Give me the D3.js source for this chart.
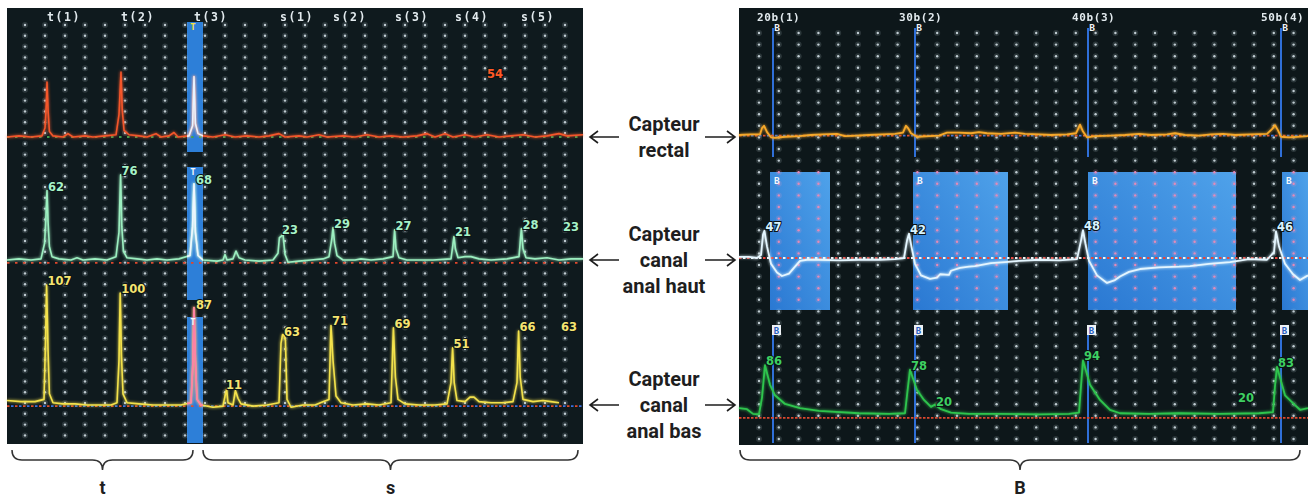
<!DOCTYPE html>
<html>
<head>
<meta charset="utf-8">
<script src="https://cdn.jsdelivr.net/npm/d3@7"></script>
<style>
  body { margin: 0; background: #fff; }
  svg { display: block; }
</style>
</head>
<body>
<svg id="chart" width="1308" height="502"></svg>
<script>
// ---- data (time in s, pressure in mmHg-ish) ----
const leftEventLabels = ["t(1)", "t(2)", "t(3)", "s(1)", "s(2)", "s(3)", "s(4)", "s(5)"];
const leftEventTimes = [2.0, 5.7, 9.35, 13.65, 16.3, 19.4, 22.4, 25.7];
const rightEventLabels = ["20b(1)", "30b(2)", "40b(3)", "50b(4)"];
const rightEventTimes = [1.7, 8.8, 17.45, 27.1];

const rectalLeft = [[0,0],[0.6,1],[1.2,0],[1.75,1],[1.9,8],[1.97,30],[2.0,49],[2.05,25],[2.12,5],[2.3,1],[2.8,0],[3.05,3],[3.3,0],[3.9,1],[4.3,0],[4.9,1],[5.45,2],[5.6,20],[5.7,58],[5.76,25],[5.85,6],[6.1,2],[6.6,1],[7.0,0],[7.45,3],[7.7,0],[8.1,1],[8.35,4],[8.55,0],[9.1,1],[9.28,10],[9.35,54],[9.42,12],[9.55,3],[9.8,1],[10.3,0],[10.9,2],[11.4,0],[12.0,1],[12.6,0],[13.1,1],[13.6,3],[13.9,0],[14.6,1],[15.0,0],[15.6,2],[16.0,0],[16.8,1],[17.4,0],[18.0,2],[18.6,0],[19.2,1],[19.8,0],[20.5,1],[21.0,3],[21.4,0],[21.9,3],[22.3,0],[22.9,2],[23.4,0],[24.0,2],[24.6,0],[25.2,1],[25.8,2],[26.4,0],[27.0,1],[27.6,3],[28.0,1],[28.8,2]];
const hautLeft = [[0,0],[0.6,1],[1.2,0],[1.7,1],[1.88,15],[1.95,40],[2.0,62],[2.05,35],[2.12,12],[2.25,3],[2.6,1],[3.2,0],[3.5,2],[3.8,0],[4.4,1],[5.0,0],[5.45,3],[5.6,25],[5.68,76],[5.74,30],[5.82,8],[6.0,2],[6.5,1],[7.0,0],[7.5,1],[8.0,0],[8.6,1],[9.15,4],[9.28,30],[9.35,68],[9.42,25],[9.55,4],[9.8,0],[10.5,-1],[10.8,0],[10.9,5],[11.0,0],[11.3,1],[11.45,8],[11.6,2],[11.9,0],[12.6,-1],[13.3,0],[13.55,6],[13.62,20],[13.7,21],[13.8,23],[13.9,5],[14.05,-2],[14.6,-1],[15.2,0],[15.8,1],[16.1,3],[16.25,20],[16.3,29],[16.38,15],[16.5,4],[16.8,0],[17.4,0],[17.7,1],[18.2,0],[18.8,1],[19.3,3],[19.38,27],[19.45,10],[19.6,2],[20.0,0],[20.6,0],[21.3,0],[22.2,1],[22.35,21],[22.42,10],[22.55,2],[22.9,3],[23.2,3],[23.6,1],[24.2,0],[25.0,1],[25.6,3],[25.72,28],[25.8,10],[25.95,2],[26.4,1],[27.0,2],[27.6,0],[28.2,1],[28.8,1]];
const basLeft = [[0,4],[0.7,3],[1.4,3],[1.85,5],[1.93,60],[1.98,107],[2.05,50],[2.12,10],[2.3,2],[2.8,1],[3.4,1],[4.0,0],[4.6,0],[5.2,0],[5.5,2],[5.6,40],[5.66,100],[5.72,45],[5.8,10],[6.0,2],[6.6,1],[7.3,0],[8.0,0],[8.7,0],[9.2,2],[9.3,40],[9.35,87],[9.42,40],[9.5,5],[9.7,0],[10.3,-2],[10.8,-1],[10.9,8],[10.98,14],[11.05,2],[11.3,0],[11.42,13],[11.55,6],[11.7,1],[12.3,-1],[13.0,0],[13.6,2],[13.7,55],[13.78,63],[13.85,62],[13.92,58],[14.0,5],[14.2,-2],[14.8,0],[15.4,0],[15.8,3],[16.1,5],[16.2,71],[16.3,40],[16.45,8],[16.7,2],[17.3,0],[18.0,1],[18.6,0],[19.2,2],[19.32,69],[19.42,25],[19.55,5],[19.9,1],[20.6,0],[21.4,0],[22.0,1],[22.2,20],[22.28,51],[22.36,20],[22.5,4],[22.9,3],[23.15,7],[23.35,7],[23.6,3],[24.2,2],[24.8,2],[25.3,3],[25.5,20],[25.58,66],[25.66,25],[25.8,5],[26.3,3],[26.8,4],[27.2,3],[27.6,2]];

const rectalRight = [[0,0],[0.6,1],[1.05,1],[1.15,12],[1.25,16],[1.4,5],[1.6,-4],[1.8,-5],[2.3,-3],[3.0,-2],[3.6,0],[4.2,1],[4.9,2],[5.3,-2],[5.9,-1],[6.5,0],[7.2,1],[7.8,2],[8.2,4],[8.35,16],[8.45,12],[8.6,3],[8.9,-3],[9.5,-2],[10.0,-1],[10.4,4],[11.0,4],[11.6,3],[12.0,5],[12.4,3],[13.1,2],[13.8,4],[14.3,2],[15.0,1],[15.6,0],[16.4,1],[16.85,3],[16.95,10],[17.05,18],[17.2,6],[17.4,-4],[17.8,-2],[18.6,-1],[19.3,0],[20.0,2],[20.6,0],[21.4,1],[21.8,3],[22.3,0],[23.0,-1],[23.6,1],[24.2,2],[24.8,0],[25.6,1],[26.4,2],[26.65,10],[26.8,17],[26.95,8],[27.1,-3],[27.5,-4],[28.45,-2]];
const hautRight = [[0,2],[0.5,2],[0.9,0],[1.1,5],[1.2,40],[1.27,47],[1.4,20],[1.6,-10],[1.9,-25],[2.15,-31],[2.5,-27],[2.8,-15],[3.05,-5],[3.4,-3],[4.0,-3],[5.0,-4],[6.0,-3],[7.0,-3],[7.8,-2],[8.25,0],[8.4,30],[8.5,42],[8.62,20],[8.8,-10],[9.1,-30],[9.55,-36],[9.9,-34],[10.05,-28],[10.5,-29],[10.6,-22],[11.05,-17],[11.5,-15],[11.8,-14],[12.6,-9],[13.3,-7],[14.0,-5],[15.0,-3],[16.0,-4],[16.9,-2],[17.1,30],[17.2,48],[17.32,25],[17.5,-5],[17.9,-30],[18.4,-43],[18.8,-38],[19.05,-32],[19.5,-24],[20.05,-19],[21.0,-16],[22.0,-15],[22.55,-14],[23.5,-10],[24.55,-7],[25.5,-2],[26.4,-3],[26.75,10],[26.85,46],[27.0,20],[27.3,-10],[27.7,-28],[28.05,-38],[28.45,-30]];
const basRight = [[0,12],[0.4,10],[0.7,2],[1.0,1],[1.15,30],[1.3,86],[1.55,52],[1.8,34],[2.3,19],[3.05,12],[4.0,7],[6.0,3],[7.5,2],[8.3,3],[8.42,40],[8.55,78],[8.9,43],[9.25,26],[9.6,14],[9.8,18],[10.1,10],[10.6,4],[11.5,2],[13.0,2],[15.0,1],[16.5,2],[17.0,4],[17.1,50],[17.2,94],[17.55,52],[18.05,26],[18.55,9],[19.05,3],[20.5,2],[22.0,3],[24.0,2],[26.0,3],[26.7,5],[26.8,50],[26.9,83],[27.3,34],[27.8,17],[28.05,9],[28.45,12]];

// peak value labels: [time, pressure, text]
const rectalLeftLabels = [[23.95, 53, "54"]];
const hautLeftLabels = [[2.0, 62, "62"], [5.68, 76, "76"], [9.4, 68, "68"], [13.7, 23, "23"], [16.3, 29, "29"], [19.38, 27, "27"], [22.35, 21, "21"], [25.72, 28, "28"], [27.75, 26, "23"]];
const basLeftLabels = [[1.98, 107, "107"], [5.66, 100, "100"], [9.4, 86, "87"], [10.9, 14, "11"], [13.8, 62, "63"], [16.2, 71, "71"], [19.32, 69, "69"], [22.28, 51, "51"], [25.58, 66, "66"], [27.65, 66, "63"]];
const hautRightLabels = [[1.27, 47, "47"], [8.5, 42, "42"], [17.2, 48, "48"], [26.85, 46, "46"]];
const basRightLabels = [[1.3, 86, "86"], [8.55, 78, "78"], [9.8, 16, "20"], [17.2, 94, "94"], [24.9, 22, "20"], [26.9, 83, "83"]];

const tMarker = [9.0, 9.8];                        // blue "T" bar on left record
const bWindows = [[1.55, 4.55], [8.7, 13.45], [17.45, 24.85], [27.15, 28.45]]; // blue "B" boxes
const sensorLines = [["Capteur", "rectal"], ["Capteur", "canal", "anal haut"], ["Capteur", "canal", "anal bas"]];
const braceLabels = ["t", "s", "B"];
const braceRanges = [["L", 0.25, 9.3], ["L", 9.8, 28.55], ["R", 0.05, 28.05]];

// ---- layout ----
const svg = d3.select("#chart");
const leftX = d3.scaleLinear().domain([0, 28.8]).range([7, 583]);
const rightX = d3.scaleLinear().domain([0, 28.45]).range([739, 1308]);
const leftBase = [137, 260, 405];
const rightBase = [135, 258, 415];
const leftY = leftBase.map(b => d3.scaleLinear().domain([0, 100]).range([b, b - 112]));
const rightY = rightBase.map(b => d3.scaleLinear().domain([0, 100]).range([b, b - 58]));
const panelTop = 8, panelBottom = 444;

const defs = svg.append("defs");
const glow = defs.append("filter").attr("id", "glow").attr("x", "-20%").attr("y", "-20%").attr("width", "140%").attr("height", "140%");
glow.append("feGaussianBlur").attr("stdDeviation", 1.6).attr("result", "b");
const fm = glow.append("feMerge");
fm.append("feMergeNode").attr("in", "b");
fm.append("feMergeNode").attr("in", "SourceGraphic");

const soft = defs.append("filter").attr("id", "soft");
soft.append("feGaussianBlur").attr("stdDeviation", 0.35);

const grad = defs.append("linearGradient").attr("id", "boxGrad").attr("x1", "0%").attr("y1", "100%").attr("x2", "100%").attr("y2", "0%");
grad.append("stop").attr("offset", "0%").attr("stop-color", "#2a78d2");
grad.append("stop").attr("offset", "100%").attr("stop-color", "#4fa2ea");

defs.append("clipPath").attr("id", "barClip").append("rect")
  .attr("x", leftX(tMarker[0])).attr("y", panelTop).attr("width", leftX(tMarker[1]) - leftX(tMarker[0])).attr("height", panelBottom - panelTop);

// panels
svg.append("rect").attr("x", leftX.range()[0]).attr("y", panelTop).attr("width", leftX.range()[1] - leftX.range()[0]).attr("height", panelBottom - panelTop).attr("fill", "#0f1a1e");
svg.append("rect").attr("x", rightX.range()[0]).attr("y", panelTop).attr("width", rightX.range()[1] - rightX.range()[0]).attr("height", panelBottom - panelTop + 1).attr("fill", "#0d171a");

// left blue T bar segments
const barSegs = [[22, 152], [167, 300], [317, 443]];
barSegs.forEach(s => {
  svg.append("rect").attr("x", leftX(tMarker[0])).attr("y", s[0]).attr("width", leftX(tMarker[1]) - leftX(tMarker[0])).attr("height", s[1] - s[0]).attr("fill", "#2d7fd8");
});

// right B windows
const boxTop = 172, boxBot = 310;
bWindows.forEach(w => {
  svg.append("rect").attr("x", rightX(w[0])).attr("y", boxTop).attr("width", rightX(w[1]) - rightX(w[0])).attr("height", boxBot - boxTop).attr("fill", "url(#boxGrad)");
});

// grid dots
function dots(xs, ys, inBox) {
  const g = svg.append("g");
  xs.forEach(x => ys.forEach(y => {
    const pink = inBox && inBox(x, y);
    g.append("circle").attr("cx", x).attr("cy", y).attr("r", 3).attr("fill", pink ? "#ff9ac0" : "#c8d8e0").attr("opacity", 0.16);
    g.append("circle").attr("cx", x).attr("cy", y).attr("r", 1.2).attr("fill", pink ? "#e58ab8" : "#c0ccd2");
  }));
}
dots(d3.range(25, 583, 20), d3.range(25, 442, 10.8));
dots(d3.range(759, 1308, 19.8), d3.range(33, 442, 11.6), (x, y) =>
  y > boxTop && y < boxBot && bWindows.some(w => x > rightX(w[0]) && x < rightX(w[1])));

// right blue B lines
rightEventTimes.forEach(t => {
  [[28, 157], [334, 443]].forEach(s => {
    svg.append("line").attr("x1", rightX(t)).attr("x2", rightX(t)).attr("y1", s[0]).attr("y2", s[1]).attr("stroke", "#2f6fd8").attr("stroke-width", 2);
  });
});

// dotted baselines (two alternating colours)
function dashed(x, y, p, c1, c2) {
  [c1, c2].forEach((c, i) => {
    if (!c) return;
    svg.append("line").attr("x1", x.range()[0]).attr("x2", x.range()[1]).attr("y1", y(p)).attr("y2", y(p))
      .attr("stroke", c).attr("stroke-width", 1.8).attr("stroke-dasharray", "2.5,5.5").attr("stroke-dashoffset", i * 4);
  });
}
dashed(leftX, leftY[0], 0, "#3ea04c", null);
dashed(leftX, leftY[1], -2.5, "#e0462c", null);
dashed(leftX, leftY[2], -1, "#e04a2c", "#3a6fe0");
dashed(rightX, rightY[0], -1, "#e04a2c", "#3a6fe0");
dashed(rightX, rightY[1], 0, "#e8443a", "#f2f2f2");
dashed(rightX, rightY[2], -5, "#e0462c", "#d84a30");

// traces
const line = (x, y) => d3.line().x(d => x(d[0])).y(d => y(d[1]));
function trace(pts, x, y, color, w, clip) {
  const p = svg.append("path").attr("d", line(x, y)(pts)).attr("fill", "none")
    .attr("stroke", color).attr("stroke-width", w).attr("stroke-linejoin", "round").attr("filter", "url(#glow)");
  if (clip) p.attr("clip-path", "url(#barClip)");
}
trace(rectalLeft, leftX, leftY[0], "#f4562a", 1.6);
trace(hautLeft, leftX, leftY[1], "#9cefc0", 1.6);
trace(basLeft, leftX, leftY[2], "#f3e24c", 1.6);
trace(rectalLeft, leftX, leftY[0], "#e8f2ff", 1.6, true);
trace(hautLeft, leftX, leftY[1], "#eef6ff", 1.6, true);
trace(basLeft, leftX, leftY[2], "#ff7fa8", 1.6, true);
trace(rectalRight, rightX, rightY[0], "#f6a82a", 1.8);
trace(hautRight, rightX, rightY[1], "#e4f6ff", 1.8);
trace(basRight, rightX, rightY[2], "#2fc54e", 1.8);

// value labels
function labels(list, x, y, color) {
  svg.append("g").selectAll("text").data(list).join("text")
    .attr("x", d => x(d[0]) + 1).attr("y", d => y(d[1]))
    .attr("font-family", "DejaVu Sans, sans-serif").attr("font-weight", "bold").attr("font-size", 11.5)
    .attr("fill", color).attr("stroke", "#0b1416").attr("stroke-width", 2).attr("paint-order", "stroke")
    .text(d => d[2]);
}
labels(rectalLeftLabels, leftX, leftY[0], "#ff5a26");
labels(hautLeftLabels, leftX, leftY[1], "#a6f2c8");
labels(basLeftLabels, leftX, leftY[2], "#f6e470");
labels(hautRightLabels, rightX, rightY[1], "#d8f4ff");
labels(basRightLabels, rightX, rightY[2], "#3ed062");

// headers
const mono = "DejaVu Sans Mono, monospace";
leftEventLabels.forEach((l, i) => {
  svg.append("text").attr("x", leftX(leftEventTimes[i])).attr("y", 21).attr("font-family", mono).attr("font-weight", "bold")
    .attr("font-size", 11.5).attr("letter-spacing", 1.6).attr("fill", "#e2eaee").attr("filter", "url(#soft)").text(l);
});
rightEventLabels.forEach((l, i) => {
  const hx = Math.min(rightX(rightEventTimes[i]) - 16, rightX.range()[1] - 47);
  svg.append("text").attr("x", hx).attr("y", 21).attr("font-family", mono).attr("font-weight", "bold")
    .attr("font-size", 11).attr("letter-spacing", 0.6).attr("fill", "#e2eaee").attr("filter", "url(#soft)").text(l);
  svg.append("text").attr("x", rightX(rightEventTimes[i]) + 4).attr("y", 31).attr("text-anchor", "middle").attr("font-family", mono)
    .attr("font-weight", "bold").attr("font-size", 9.5).attr("fill", "#f0f4f8").text("B");
  svg.append("rect").attr("x", rightX(rightEventTimes[i]) - 1).attr("y", 325).attr("width", 9).attr("height", 10).attr("fill", "#eef2f6");
  svg.append("text").attr("x", rightX(rightEventTimes[i]) + 3.5).attr("y", 334).attr("text-anchor", "middle").attr("font-family", mono)
    .attr("font-weight", "bold").attr("font-size", 9).attr("fill", "#2a5fc0").text("B");
});
bWindows.forEach(w => {
  svg.append("text").attr("x", rightX(w[0]) + 4).attr("y", boxTop + 12).attr("font-family", mono).attr("font-weight", "bold")
    .attr("font-size", 9.5).attr("fill", "#f4f8fc").text("B");
});
barSegs.forEach((s, i) => {
  svg.append("text").attr("x", (leftX(tMarker[0]) + leftX(tMarker[1])) / 2 - 2).attr("y", s[0] + 8).attr("text-anchor", "middle")
    .attr("font-family", mono).attr("font-weight", "bold").attr("font-size", 9).attr("fill", i === 0 ? "#f4e04a" : "#f4f8fc").text("T");
});

// sensor annotations
const ann = svg.append("g").attr("font-family", "Roboto, sans-serif").attr("font-weight", "bold").attr("font-size", 20).attr("fill", "#1e1e1e");
function arrow(x1, x2, y) {
  const dir = Math.sign(x2 - x1);
  ann.append("path").attr("d", `M${x1},${y}L${x2},${y}M${x2 - dir * 8},${y - 6}L${x2},${y}L${x2 - dir * 8},${y + 6}`)
    .attr("fill", "none").attr("stroke", "#1e1e1e").attr("stroke-width", 1.6);
}
sensorLines.forEach((lines, i) => {
  const yc = leftBase[i];
  arrow(619, 590, yc);
  arrow(705, 735, yc);
  lines.forEach((t, j) => {
    ann.append("text").attr("x", 664).attr("y", yc + (j - (lines.length - 1) / 2) * 26).attr("dy", "0.35em")
      .attr("text-anchor", "middle").text(t);
  });
});

// braces
braceRanges.forEach((r, i) => {
  const x = r[0] === "L" ? leftX : rightX;
  const x1 = x(r[1]), x2 = x(r[2]), m = (x1 + x2) / 2, y0 = 450, h = 10;
  svg.append("path").attr("d",
    `M${x1},${y0} Q${x1},${y0 + h} ${x1 + 10},${y0 + h} L${m - 10},${y0 + h} Q${m},${y0 + h} ${m},${y0 + 2 * h} Q${m},${y0 + h} ${m + 10},${y0 + h} L${x2 - 10},${y0 + h} Q${x2},${y0 + h} ${x2},${y0}`)
    .attr("fill", "none").attr("stroke", "#333").attr("stroke-width", 1.5);
  svg.append("text").attr("x", m).attr("y", 488).attr("dy", "0.35em").attr("text-anchor", "middle")
    .attr("font-family", "Roboto, sans-serif").attr("font-weight", "bold").attr("font-size", 18).attr("fill", "#1e1e1e").text(braceLabels[i]);
});
</script>
</body>
</html>
